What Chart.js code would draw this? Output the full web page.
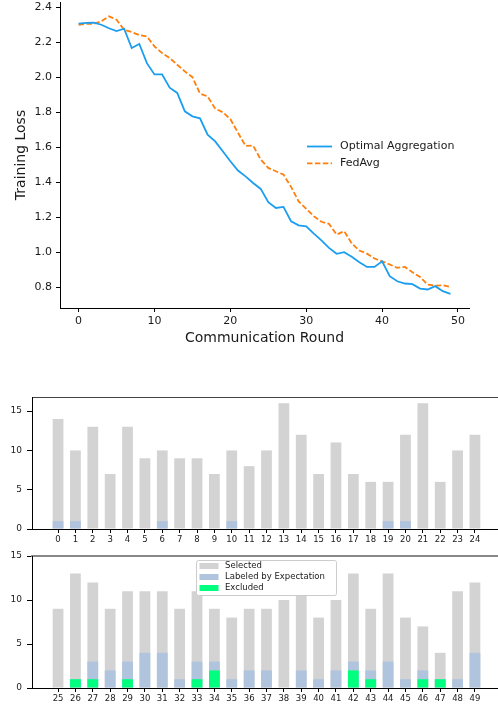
<!DOCTYPE html>
<html>
<head>
<meta charset="utf-8">
<script src="https://cdn.jsdelivr.net/npm/chart.js@4.4.1/dist/chart.umd.min.js"></script>
<style>
  html, body { margin: 0; padding: 0; background: #fff; overflow: hidden; }
  #page { position: relative; width: 498px; height: 708px; overflow: hidden; }
  canvas { position: absolute; left: 0; }
</style>
</head>
<body>
<div id="page">
  <canvas id="loss-chart" width="498" height="360" style="top:0"></canvas>
  <canvas id="clients-a" width="501" height="160" style="top:385px"></canvas>
  <canvas id="clients-b" width="501" height="163" style="top:545px"></canvas>
</div>
<script>
// Training loss per communication round
const rounds = [0, 1, 2, 3, 4, 5, 6, 7, 8, 9, 10, 11, 12, 13, 14, 15, 16, 17, 18, 19,
  20, 21, 22, 23, 24, 25, 26, 27, 28, 29, 30, 31, 32, 33, 34, 35, 36, 37, 38, 39,
  40, 41, 42, 43, 44, 45, 46, 47, 48, 49];
const optimalLoss = [2.306, 2.311, 2.312, 2.300, 2.280, 2.264, 2.277, 2.167, 2.190, 2.080,
  2.016, 2.016, 1.940, 1.910, 1.805, 1.776, 1.765, 1.671, 1.633, 1.576,
  1.519, 1.466, 1.433, 1.395, 1.361, 1.285, 1.252, 1.258, 1.176, 1.153,
  1.147, 1.105, 1.067, 1.024, 0.990, 0.999, 0.973, 0.942, 0.915, 0.915,
  0.947, 0.862, 0.833, 0.820, 0.816, 0.791, 0.786, 0.805, 0.776, 0.761];
const fedAvgLoss = [2.300, 2.305, 2.305, 2.320, 2.348, 2.329, 2.271, 2.258, 2.241, 2.233,
  2.176, 2.138, 2.110, 2.071, 2.033, 2.000, 1.906, 1.890, 1.820, 1.800,
  1.760, 1.683, 1.607, 1.609, 1.529, 1.481, 1.462, 1.443, 1.373, 1.290,
  1.247, 1.205, 1.173, 1.161, 1.100, 1.119, 1.049, 1.009, 0.991, 0.963,
  0.947, 0.929, 0.910, 0.915, 0.884, 0.858, 0.814, 0.808, 0.810, 0.800];
const roundTicks = [0, 10, 20, 30, 40, 50];
const lossTicks = [0.8, 1.0, 1.2, 1.4, 1.6, 1.8, 2.0, 2.2, 2.4];

// Client selection counts
const clientsA = [0, 1, 2, 3, 4, 5, 6, 7, 8, 9, 10, 11, 12, 13, 14, 15, 16, 17, 18, 19, 20, 21, 22, 23, 24];
const selectedA = [14, 10, 13, 7, 13, 9, 10, 9, 9, 7, 10, 8, 10, 16, 12, 7, 11, 7, 6, 6, 12, 16, 6, 10, 12];
const labeledA = [1, 1, 0, 0, 0, 0, 1, 0, 0, 0, 1, 0, 0, 0, 0, 0, 0, 0, 0, 1, 1, 0, 0, 0, 0];
const excludedA = [0, 0, 0, 0, 0, 0, 0, 0, 0, 0, 0, 0, 0, 0, 0, 0, 0, 0, 0, 0, 0, 0, 0, 0, 0];

const clientsB = [25, 26, 27, 28, 29, 30, 31, 32, 33, 34, 35, 36, 37, 38, 39, 40, 41, 42, 43, 44, 45, 46, 47, 48, 49];
const selectedB = [9, 13, 12, 9, 11, 11, 11, 9, 11, 9, 8, 9, 9, 10, 12, 8, 10, 13, 9, 13, 8, 7, 4, 11, 12];
const labeledB = [0, 1, 3, 2, 3, 4, 4, 1, 3, 3, 1, 2, 2, 0, 2, 1, 2, 3, 2, 3, 1, 2, 1, 1, 4];
const excludedB = [0, 1, 1, 0, 1, 0, 0, 0, 1, 2, 0, 0, 0, 0, 0, 0, 0, 2, 1, 0, 0, 1, 1, 0, 0];
const countTicks = [0, 5, 10, 15];

Chart.defaults.font.family = "'DejaVu Sans', sans-serif";
Chart.defaults.color = '#1a1a1a';

// Draws a legend at a fixed spot inside the canvas
const floatLegend = {
  id: 'floatLegend',
  afterDraw(chart, args, opts) {
    const ctx = chart.ctx;
    const datasets = chart.data.datasets;
    ctx.save();
    if (opts.frame) {
      const f = opts.frame;
      ctx.fillStyle = '#fff';
      ctx.strokeStyle = '#cccccc';
      ctx.lineWidth = 1;
      ctx.beginPath();
      ctx.roundRect(f.x + 0.5, f.y + 0.5, f.w, f.h, 2);
      ctx.fill();
      ctx.stroke();
    }
    ctx.font = `${opts.fontSize}px 'DejaVu Sans', sans-serif`;
    ctx.textBaseline = 'middle';
    datasets.forEach((ds, i) => {
      const y = opts.y + i * opts.rowGap;
      if (chart.config.type === 'bar') {
        ctx.fillStyle = ds.backgroundColor;
        ctx.fillRect(opts.x, y - opts.patchHeight / 2, opts.sampleWidth, opts.patchHeight);
      } else {
        ctx.strokeStyle = ds.borderColor;
        ctx.lineWidth = ds.borderWidth;
        ctx.setLineDash(ds.borderDash || []);
        ctx.beginPath();
        ctx.moveTo(opts.x, y);
        ctx.lineTo(opts.x + opts.sampleWidth, y);
        ctx.stroke();
        ctx.setLineDash([]);
      }
      ctx.fillStyle = '#1a1a1a';
      ctx.fillText(ds.label, opts.x + opts.sampleWidth + opts.textGap, y);
    });
    ctx.restore();
  }
};

function noScalePadding(scale) {
  scale.paddingLeft = 0;
  scale.paddingRight = 0;
  scale.paddingTop = 0;
  scale.paddingBottom = 0;
}

function toPoints(xs, ys) {
  return xs.map((x, i) => ({ x: x, y: ys[i] }));
}

new Chart(document.getElementById('loss-chart'), {
  type: 'line',
  data: {
    datasets: [
      {
        label: 'Optimal Aggregation',
        data: toPoints(rounds, optimalLoss),
        borderColor: '#1b9ef0',
        borderWidth: 1.8,
        pointRadius: 0,
        tension: 0
      },
      {
        label: 'FedAvg',
        data: toPoints(rounds, fedAvgLoss),
        borderColor: '#ff7f0e',
        borderWidth: 1.8,
        borderDash: [5.5, 2.4],
        pointRadius: 0,
        tension: 0
      }
    ]
  },
  options: {
    responsive: false,
    animation: false,
    layout: { padding: { left: 9, right: 29, top: 2, bottom: 9 } },
    plugins: {
      legend: { display: false },
      tooltip: { enabled: false },
      floatLegend: { x: 307, y: 146.5, rowGap: 16.8, sampleWidth: 25, textGap: 8, fontSize: 11, patchHeight: 0 }
    },
    scales: {
      x: {
        type: 'linear',
        min: -2.45,
        max: 51.45,
        afterBuildTicks: s => { s.ticks = roundTicks.map(v => ({ value: v })); },
        afterFit: s => { s.height = 43; noScalePadding(s); },
        grid: { drawOnChartArea: false, tickLength: 4, color: '#000' },
        border: { color: '#000', width: 1 },
        ticks: { padding: 3, font: { size: 11 }, maxRotation: 0, callback: v => String(v) },
        title: { display: true, text: 'Communication Round', font: { size: 14 }, padding: { top: 4, bottom: 4 } }
      },
      y: {
        min: 0.68,
        max: 2.43,
        afterBuildTicks: s => { s.ticks = lossTicks.map(v => ({ value: v })); },
        afterFit: s => { s.width = 51; noScalePadding(s); },
        grid: { drawOnChartArea: false, tickLength: 4, color: '#000' },
        border: { color: '#000', width: 1 },
        ticks: { padding: 4, font: { size: 11 }, callback: v => v.toFixed(1) },
        title: { display: true, text: 'Training Loss', font: { size: 14 }, padding: { top: 4, bottom: 4 } }
      }
    }
  },
  plugins: [floatLegend]
});

function makeClientChart(canvasId, clients, selected, labeled, excluded, yMax, extra) {
  const xMin = clients[0] - 1.5;
  const xMax = clients[0] + 25.5;
  const barStyle = { grouped: false, categoryPercentage: 1, barPercentage: 0.62, borderWidth: 0 };
  return new Chart(document.getElementById(canvasId), {
    type: 'bar',
    data: {
      datasets: [
        { label: 'Selected', data: toPoints(clients, selected), backgroundColor: '#d3d3d3', order: 3, ...barStyle },
        { label: 'Labeled by Expectation', data: toPoints(clients, labeled), backgroundColor: '#b0c4de', order: 2, ...barStyle },
        { label: 'Excluded', data: toPoints(clients, excluded), backgroundColor: '#00ff7f', order: 1, ...barStyle }
      ]
    },
    options: {
      responsive: false,
      animation: false,
      layout: { padding: { left: 0, right: 0, top: extra.top, bottom: 0 } },
      plugins: {
        legend: { display: false },
        tooltip: { enabled: false },
        floatLegend: extra.legend || false
      },
      scales: {
        x: {
          type: 'linear',
          offset: false,
          min: xMin,
          max: xMax,
          afterBuildTicks: s => { s.ticks = clients.map(v => ({ value: v })); },
          afterFit: s => { s.height = extra.xHeight; noScalePadding(s); },
          grid: { drawOnChartArea: false, offset: false, tickLength: 4, color: '#000' },
          border: { color: '#000', width: 1 },
          ticks: { padding: 2, font: { size: 8.5 }, maxRotation: 0, autoSkip: false, callback: v => String(v) }
        },
        x2: {
          type: 'linear',
          position: 'top',
          offset: false,
          min: xMin,
          max: xMax,
          afterFit: s => { s.height = 0; noScalePadding(s); },
          grid: { display: false, offset: false },
          ticks: { display: false },
          border: { color: extra.topColor, width: extra.topWidth }
        },
        y: {
          min: 0,
          max: yMax,
          afterBuildTicks: s => { s.ticks = countTicks.map(v => ({ value: v })); },
          afterFit: s => { s.width = 32; noScalePadding(s); },
          grid: { drawOnChartArea: false, tickLength: 5, color: '#000' },
          border: { color: '#000', width: 1 },
          ticks: { padding: 5, font: { size: 9 } }
        }
      }
    },
    plugins: [floatLegend]
  });
}

makeClientChart('clients-a', clientsA, selectedA, labeledA, excludedA, 16.8,
  { top: 12, xHeight: 16, topColor: '#444', topWidth: 1 });

makeClientChart('clients-b', clientsB, selectedB, labeledB, excludedB, 15,
  {
    top: 11, xHeight: 20, topColor: '#888', topWidth: 2,
    legend: {
      x: 199.5, y: 21, rowGap: 11, sampleWidth: 19, textGap: 6.5, fontSize: 8.5, patchHeight: 6,
      frame: { x: 196, y: 15, w: 140, h: 35 }
    }
  });
</script>
</body>
</html>
